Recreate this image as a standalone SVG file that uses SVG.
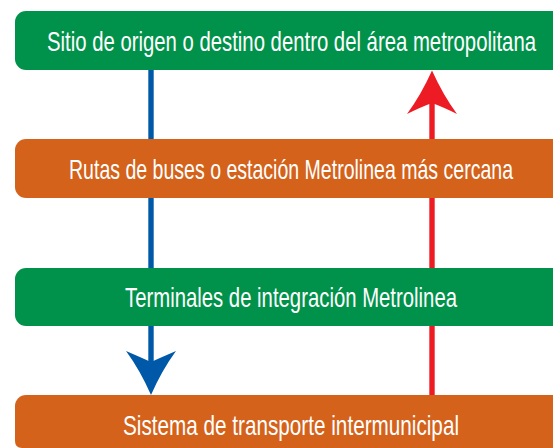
<svg xmlns="http://www.w3.org/2000/svg" width="553" height="448" viewBox="0 0 553 448">
  <style>
    .green { fill: #00924A; }
    .orange { fill: #D4621B; }
    .lbl { font-family: "Liberation Sans", Arial, sans-serif; font-size: 28px; fill: #ffffff; text-anchor: middle; }
  </style>
  <rect width="553" height="448" fill="#ffffff"/>
  <g id="connectors">
    <line x1="151" y1="66" x2="151" y2="364" stroke="#0059A8" stroke-width="5.4"/>
    <path d="M151,395 Q140,370 126,351 Q140,357 151,362 Q162,357 176,351 Q162,370 151,395 Z" fill="#0059A8"/>
    <line x1="432" y1="100" x2="432" y2="400" stroke="#ED1C24" stroke-width="5.4"/>
    <path d="M432,70.5 Q421,95 407,114 Q421,107 432,103 Q443,107 457,114 Q443,95 432,70.5 Z" fill="#ED1C24"/>
  </g>
  <g id="node1">
    <path class="green" d="M26,11 H553 V70 H26 A11,11 0 0 1 15,59 V22 A11,11 0 0 1 26,11 Z"/>
    <text class="lbl" x="291.5" y="50.5" textLength="489" lengthAdjust="spacingAndGlyphs">Sitio de origen o destino dentro del área metropolitana</text>
  </g>
  <g id="node2">
    <path class="orange" d="M26,139 H553 V198 H26 A11,11 0 0 1 15,187 V150 A11,11 0 0 1 26,139 Z"/>
    <text class="lbl" x="291" y="179" textLength="444" lengthAdjust="spacingAndGlyphs">Rutas de buses o estación Metrolinea más cercana</text>
  </g>
  <g id="node3">
    <path class="green" d="M26,268 H553 V326 H26 A11,11 0 0 1 15,315 V279 A11,11 0 0 1 26,268 Z"/>
    <text class="lbl" x="291" y="306.5" textLength="332" lengthAdjust="spacingAndGlyphs">Terminales de integración Metrolinea</text>
  </g>
  <g id="node4">
    <path class="orange" d="M26,395 H553 V448 H22 Q15,448 15,441 V406 A11,11 0 0 1 26,395 Z"/>
    <text class="lbl" x="291" y="434.5" textLength="336" lengthAdjust="spacingAndGlyphs">Sistema de transporte intermunicipal</text>
  </g>
</svg>
